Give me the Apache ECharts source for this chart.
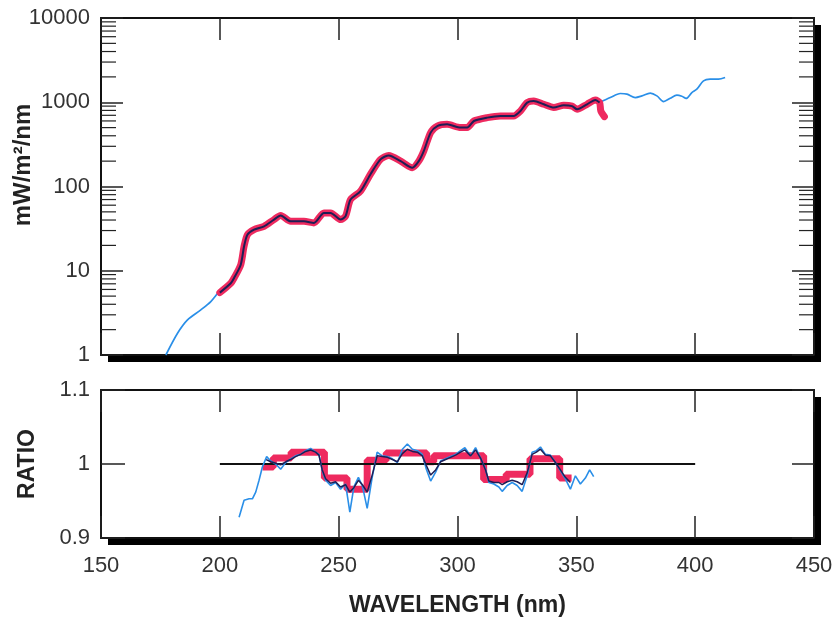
<!DOCTYPE html>
<html><head><meta charset="utf-8">
<script src="https://cdn.jsdelivr.net/npm/echarts@6/dist/echarts.min.js"></script>
<style>html,body{margin:0;padding:0;background:#fff}#c{width:839px;height:618px}</style>
</head><body><div id="c"></div>
<script>
// ---- axis ticks ----
const xTicks = [150, 200, 250, 300, 350, 400, 450];
const yTopTicks = [1, 10, 100, 1000, 10000];
const yRatioTicks = [0.9, 1, 1.1];
const minorMultipliers = [2, 3, 4, 5, 6, 7, 8, 9];
const decades = [1, 10, 100, 1000];

// ---- top panel: spectral irradiance (nm, mW/m2/nm) ----
const blueLow = [[177.3,1],[182.2,1.81],[186.4,2.61],[192.0,3.43],[196.2,4.31],[199.7,5.67],[200.6,5.9]];
const blueHigh = [[359.8,991],[364.3,1137],[368.5,1270],[371.3,1250],[374.8,1137],[377.6,1190],[381.1,1280],[383.9,1190],[386.7,1019],[389.5,1116],[392.3,1212],[394.4,1177],[396.2,1110],[398.6,1304],[400.7,1428],[403.5,1794],[406.3,1879],[409.8,1879],[412.6,1968]];
const redTop = [[200.0,5.5],[204.6,7.1],[206.0,8.2],[208.8,11.8],[210.2,19.5],[211.6,26.8],[214.4,30.8],[218.6,33.7],[222.8,40.5],[225.6,45.2],[229.8,38.6],[235.4,38.6],[239.6,37],[243.8,48.6],[246.6,48.6],[250.8,40.5],[252.9,44.5],[255.0,70],[259.2,88],[263.4,140],[267.6,210],[271.1,234],[276.1,200],[281.0,167],[283.7,200],[285.8,263],[288.7,436],[291.5,522],[295.6,547],[301.3,500],[304.1,500],[306.9,599],[312.5,657],[318.1,687],[323.6,687],[326.5,788],[329.3,991],[332.1,1037],[336.3,946],[340.5,865],[344.7,921],[348.2,900],[350.3,826],[354.5,946],[358.0,1066],[359.8,991],[360.3,788],[361.8,676]];
const navyTop = redTop.slice(0, redTop.length - 2);

// ---- bottom panel: ratio ----
const refLineX = [200, 400];
const refLineY = 1;
const stepEdges = [218, 222.5, 230, 244, 253.5, 262, 270, 287, 290, 311, 320.5, 330.5, 343, 348];
const stepValues = [0.996, 1.008, 1.016, 0.981, 0.966, 1.005, 1.015, 1.003, 1.011, 0.979, 0.986, 1.007, 0.981];
const blueRatio = [[208.1,0.928],[210.2,0.951],[212.3,0.953],[213.7,0.953],[215.1,0.962],[216.5,0.978],[217.9,0.996],[219.7,1.010],[221.4,1.004],[223.5,1.000],[225.6,0.993],[227.7,1.002],[229.8,1.007],[231.9,1.011],[234.0,1.013],[236.1,1.018],[238.2,1.021],[240.3,1.016],[241.7,1.013],[243.1,0.991],[244.5,0.978],[246.6,0.971],[248.7,0.975],[250.8,0.966],[252.9,0.973],[254.7,0.935],[256.4,0.969],[258.3,0.982],[260.0,0.970],[262.0,0.940],[264.1,0.982],[266.2,1.016],[268.3,1.011],[270.5,1.010],[272.6,1.007],[274.7,1.002],[276.8,1.020],[278.9,1.027],[281.0,1.020],[283.1,1.018],[285.2,1.013],[286.9,0.993],[288.7,0.977],[290.8,0.989],[292.9,1.004],[295.0,1.007],[297.1,1.010],[299.2,1.013],[301.3,1.018],[303.1,1.022],[305.5,1.011],[307.6,1.022],[309.7,1.008],[311.8,0.993],[313.2,0.975],[315.3,0.973],[317.4,0.969],[318.8,0.963],[320.9,0.971],[323.0,0.975],[325.1,0.971],[327.2,0.963],[329.3,0.984],[331.4,1.016],[333.2,1.018],[334.9,1.023],[337.0,1.013],[339.1,1.012],[341.2,1.002],[343.3,0.991],[345.4,0.980],[347.5,0.966],[349.6,0.984],[351.7,0.973],[353.8,0.981],[355.6,0.992],[357.3,0.983]];
const navyRatio = [[219.5,1.006],[221.4,1.003],[223.5,1.001],[225.6,0.999],[227.7,1.003],[229.8,1.006],[231.9,1.010],[234.0,1.013],[236.1,1.017],[238.2,1.019],[240.3,1.016],[241.7,1.012],[243.1,0.992],[244.5,0.980],[246.6,0.974],[248.7,0.976],[250.8,0.969],[252.9,0.972],[254.7,0.962],[256.4,0.968],[258.3,0.978],[260.0,0.972],[262.0,0.962],[264.1,0.985],[266.2,1.011],[268.3,1.010],[270.5,1.009],[272.6,1.006],[274.7,1.003],[276.8,1.014],[278.9,1.020],[281.0,1.017],[283.1,1.016],[285.2,1.011],[286.9,0.998],[288.7,0.985],[290.8,0.992],[292.9,1.003],[295.0,1.006],[297.1,1.009],[299.2,1.012],[301.3,1.016],[303.1,1.019],[305.5,1.011],[307.6,1.019],[309.7,1.008],[311.8,0.992],[313.2,0.977],[315.3,0.975],[317.4,0.975],[318.8,0.972],[320.9,0.976],[323.0,0.978],[325.1,0.976],[327.2,0.972],[329.3,0.988],[331.4,1.013],[333.2,1.016],[334.9,1.020],[337.0,1.012],[339.1,1.011],[341.2,1.002],[343.3,0.992],[345.4,0.982],[347.5,0.975]];

// ---- build helpers ----
const minorTicks = [];
decades.forEach(d => minorMultipliers.forEach(m => minorTicks.push([xTicks[0], d * m])));
const stepData = stepValues.map((v, i) => [stepEdges[i], v]);
stepData.push([stepEdges[stepEdges.length - 1], stepValues[stepValues.length - 1]]);
const refData = refLineX.map(x => [x, refLineY]);

const RED = '#ee2a5f', BLUE = '#2a8fe8', NAVY = '#1e1e55', INK = '#222';
const FONT = 'Liberation Sans, Arial, Helvetica, sans-serif';

const gridStyle = {
  show: true, borderWidth: 0, backgroundColor: '#fff',
  shadowColor: '#000', shadowBlur: 0, shadowOffsetX: 7, shadowOffsetY: 7
};
const frameLine = { show: true, onZero: false, lineStyle: { color: '#111', width: 2 } };
const tickStyle = { show: true, inside: true, length: 22, lineStyle: { color: INK, width: 1.5 } };
const plainLabel = v => String(v);
const xBase = (grid, pos, labels) => ({
  type: 'value', gridIndex: grid, position: pos, min: 150, max: 450, interval: 50,
  axisLine: frameLine, splitLine: { show: false }, axisTick: tickStyle,
  axisLabel: labels ? { show: true, fontSize: 22, fontFamily: FONT, color: '#333', margin: 17, formatter: plainLabel } : { show: false }
});

const chart = echarts.init(document.getElementById('c'), null, { renderer: 'canvas' });
chart.setOption({
  animation: false,
  backgroundColor: '#fff',
  grid: [
    Object.assign({ left: 101, top: 18, width: 713, height: 337 }, gridStyle),
    Object.assign({ left: 101, top: 390, width: 713, height: 149 }, gridStyle)
  ],
  xAxis: [
    xBase(0, 'bottom', false),
    xBase(0, 'top', false),
    Object.assign(xBase(1, 'bottom', true), {
      name: 'WAVELENGTH (nm)', nameLocation: 'middle', nameGap: 56,
      nameTextStyle: { fontSize: 23, fontWeight: 'bold', fontFamily: FONT, color: INK }
    }),
    xBase(1, 'top', false)
  ],
  yAxis: [
    { type: 'log', logBase: 10, gridIndex: 0, position: 'left', min: yTopTicks[0], max: yTopTicks[yTopTicks.length - 1],
      axisLine: frameLine, splitLine: { show: false }, axisTick: tickStyle,
      axisLabel: { fontSize: 22, fontFamily: FONT, color: '#333', margin: 11, formatter: plainLabel } },
    { type: 'log', logBase: 10, gridIndex: 0, position: 'right', min: yTopTicks[0], max: yTopTicks[yTopTicks.length - 1],
      axisLine: frameLine, splitLine: { show: false }, axisTick: tickStyle, axisLabel: { show: false } },
    { type: 'value', gridIndex: 1, position: 'left', min: yRatioTicks[0], max: yRatioTicks[2], interval: 0.1,
      axisLine: frameLine, splitLine: { show: false },
      axisTick: Object.assign({}, tickStyle, { length: 24 }),
      axisLabel: { fontSize: 22, fontFamily: FONT, color: '#333', margin: 11, formatter: plainLabel },
      name: 'RATIO', nameLocation: 'middle', nameGap: 62,
      nameTextStyle: { fontSize: 23, fontWeight: 'bold', fontFamily: FONT, color: INK } },
    { type: 'value', gridIndex: 1, position: 'right', min: yRatioTicks[0], max: yRatioTicks[2], interval: 0.1,
      axisLine: frameLine, splitLine: { show: false }, axisTick: tickStyle, axisLabel: { show: false } }
  ],
  graphic: [{
    type: 'text', x: 23, y: 165, rotation: Math.PI / 2,
    style: { text: 'mW/m²/nm', font: 'bold 24px ' + FONT, fill: INK, textAlign: 'center', textVerticalAlign: 'middle' }
  }],
  series: [
    { type: 'custom', xAxisIndex: 0, yAxisIndex: 0, silent: true, data: minorTicks, z: 1,
      renderItem: function (params, api) {
        const pl = api.coord([150, api.value(1)]);
        const pr = api.coord([450, api.value(1)]);
        return { type: 'group', children: [
          { type: 'line', shape: { x1: pl[0], y1: pl[1], x2: pl[0] + 15, y2: pl[1] }, style: { stroke: INK, lineWidth: 1.2 } },
          { type: 'line', shape: { x1: pr[0], y1: pr[1], x2: pr[0] - 15, y2: pr[1] }, style: { stroke: INK, lineWidth: 1.2 } }
        ]};
      } },
    { type: 'line', xAxisIndex: 0, yAxisIndex: 0, data: blueLow, symbol: 'none', smooth: 0.3,
      lineStyle: { color: BLUE, width: 1.7 }, z: 3 },
    { type: 'line', xAxisIndex: 0, yAxisIndex: 0, data: blueHigh, symbol: 'none', smooth: 0.3,
      lineStyle: { color: BLUE, width: 1.7 }, z: 3 },
    { type: 'line', xAxisIndex: 0, yAxisIndex: 0, data: redTop, symbol: 'none', smooth: 0.25,
      lineStyle: { color: RED, width: 7, cap: 'round', join: 'round' }, z: 4 },
    { type: 'line', xAxisIndex: 0, yAxisIndex: 0, data: navyTop, symbol: 'none', smooth: 0.25,
      lineStyle: { color: NAVY, width: 2 }, z: 5 },

    { type: 'line', xAxisIndex: 2, yAxisIndex: 2, data: stepData, step: 'end', symbol: 'none',
      lineStyle: { color: RED, width: 7 }, z: 3 },
    { type: 'line', xAxisIndex: 2, yAxisIndex: 2, data: refData, symbol: 'none',
      lineStyle: { color: '#111', width: 2 }, z: 4 },
    { type: 'line', xAxisIndex: 2, yAxisIndex: 2, data: blueRatio, symbol: 'none',
      lineStyle: { color: BLUE, width: 1.6 }, z: 5 },
    { type: 'line', xAxisIndex: 2, yAxisIndex: 2, data: navyRatio, symbol: 'none',
      lineStyle: { color: NAVY, width: 1.5 }, z: 6 }
  ]
});
</script>
</body></html>
